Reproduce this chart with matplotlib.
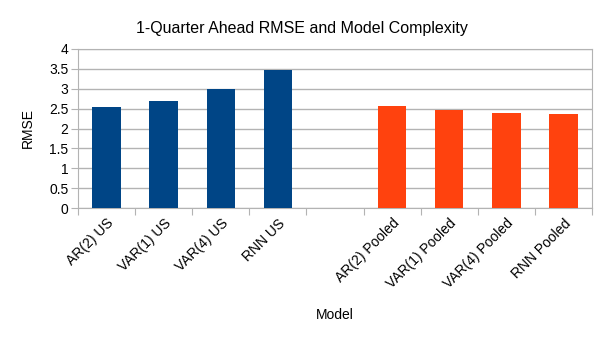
import numpy as np
import matplotlib
matplotlib.use('Agg')
import matplotlib.pyplot as plt

plt.rcParams['font.family'] = ['Liberation Sans', 'DejaVu Sans']

models = ['AR(2) US', 'VAR(1) US', 'VAR(4) US', 'RNN US', '',
          'AR(2) Pooled', 'VAR(1) Pooled', 'VAR(4) Pooled', 'RNN Pooled']
us_rmse = [2.54, 2.70, 2.99, 3.47]
pooled_rmse = [2.57, 2.47, 2.38, 2.36]
yticks = [0, 0.5, 1, 1.5, 2, 2.5, 3, 3.5, 4]

fig = plt.figure(figsize=(6.04, 3.4), dpi=100)
ax = fig.add_axes([78 / 604, 1 - 208 / 340, 514 / 604, 159 / 340])

x = np.arange(len(models))
ax.bar(x[:4], us_rmse, width=0.5, color='#004586', zorder=3)
ax.bar(x[5:], pooled_rmse, width=0.5, color='#ff420e', zorder=3)

ax.set_xlim(-0.5, len(models) - 0.5)
ax.set_ylim(0, 4)
ax.set_yticks(yticks)
ax.set_yticklabels(['0', '0.5', '1', '1.5', '2', '2.5', '3', '3.5', '4'], fontsize=10)
ax.yaxis.grid(True, color='#b3b3b3', linewidth=1, zorder=0)

# ticks at category boundaries, labels at centers
ax.set_xticks(np.arange(len(models) + 1) - 0.5)
ax.set_xticklabels([])
ax.set_xticks(x, minor=True)
ax.set_xticklabels(models, minor=True, rotation=45, ha='right',
                   rotation_mode='anchor', fontsize=10)
ax.tick_params(axis='x', which='minor', length=0, pad=6)
ax.tick_params(axis='x', which='major', length=5, color='#b3b3b3')
ax.tick_params(axis='y', length=5, color='#b3b3b3', pad=2)

for s in ax.spines.values():
    s.set_color('#b3b3b3')

ax.set_ylabel('RMSE', fontsize=10, labelpad=10)
ax.set_xlabel('Model', fontsize=10, labelpad=12)
fig.text(0.5, 1 - 28 / 340, '1-Quarter Ahead RMSE and Model Complexity',
         ha='center', va='center', fontsize=11.5)

fig.savefig('out.png', dpi=100)
